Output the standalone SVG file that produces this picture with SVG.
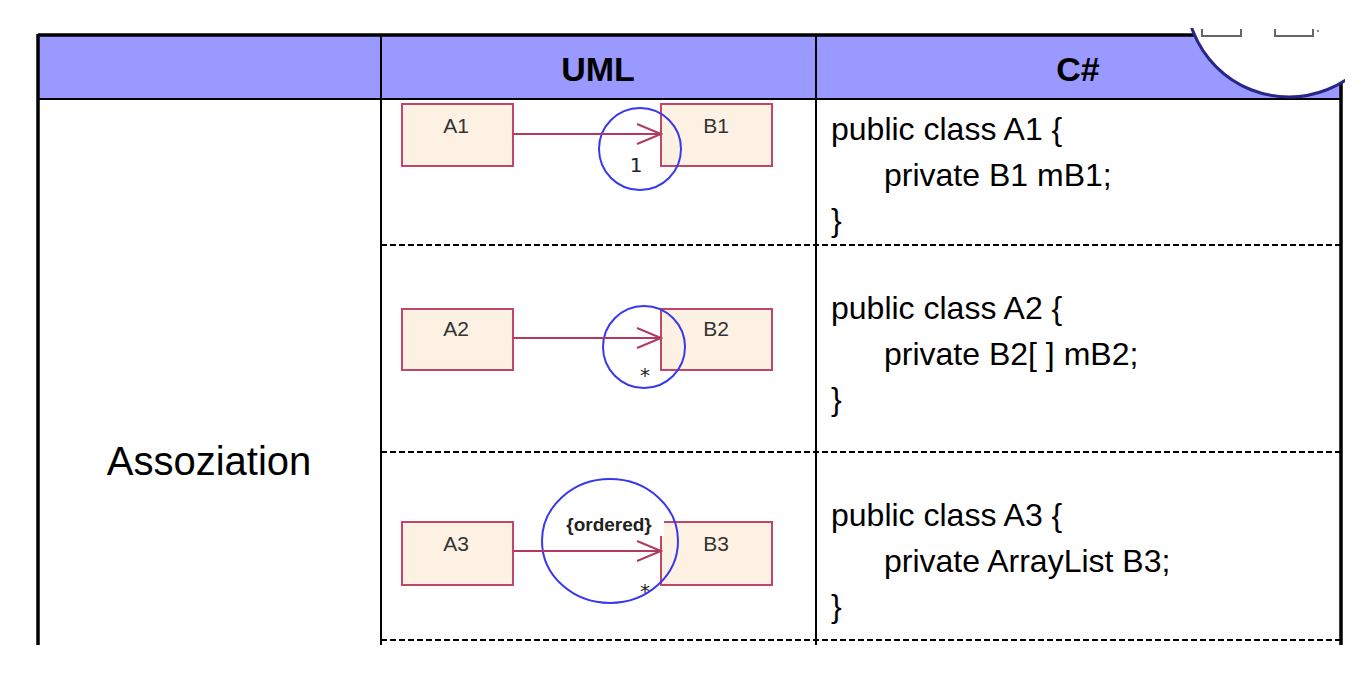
<svg xmlns="http://www.w3.org/2000/svg" width="1361" height="681" viewBox="0 0 1361 681">
<style>
  text { font-family: "Liberation Sans", Arial, sans-serif; }
  .hdr { font-size: 34px; font-weight: bold; fill: #000; text-anchor: middle; }
  .code { font-size: 32px; fill: #000; }
  .cls { fill: #FCF1E3; stroke: #C2466A; stroke-width: 2; }
  .clsl { font-size: 21px; fill: #333; text-anchor: middle; }
  .assoc { stroke: #B23A5E; stroke-width: 2; fill: none; }
  .mark { fill: none; stroke: #3838EE; stroke-width: 2; }
  .mult { font-family: "DejaVu Sans", sans-serif; font-size: 20px; fill: #222; text-anchor: middle; }
  .dash { stroke: #000; stroke-width: 2; stroke-dasharray: 6 3; }
  .solid { stroke: #000; stroke-width: 2; }
  .thick { stroke: #000; stroke-width: 3.5; }
</style>
<defs>
  <marker id="open" markerWidth="28" markerHeight="24" refX="26" refY="12" orient="auto" markerUnits="userSpaceOnUse">
    <path d="M2,2 L26,12 L2,22" fill="none" stroke="#B23A5E" stroke-width="2"/>
  </marker>
  <clipPath id="lensclip"><rect x="0" y="28" width="1345" height="653"/></clipPath>
</defs>
<rect width="1361" height="681" fill="#fff"/>
<g id="table">
  <rect x="38" y="35" width="1303" height="64" fill="#9999FF"/>
  <line class="thick" x1="38" y1="35" x2="1341" y2="35"/>
  <line class="thick" x1="38" y1="34" x2="38" y2="645"/>
  <line class="thick" x1="1341" y1="34" x2="1341" y2="645"/>
  <line class="solid" x1="38" y1="99" x2="1341" y2="99"/>
  <line class="solid" x1="381" y1="35" x2="381" y2="645"/>
  <line class="solid" x1="816" y1="35" x2="816" y2="645"/>
  <line class="dash" x1="381" y1="245" x2="1341" y2="245"/>
  <line class="dash" x1="381" y1="452" x2="1341" y2="452"/>
  <line class="dash" x1="381" y1="640" x2="1341" y2="640"/>
  <text class="hdr" x="598" y="81">UML</text>
  <text class="hdr" x="1078" y="81">C#</text>
  <text x="209" y="475" font-size="40" text-anchor="middle" fill="#000">Assoziation</text>
</g>
<g id="row1">
  <g id="A1"><rect class="cls" x="402" y="104" width="111" height="62"/><text class="clsl" x="456" y="133">A1</text></g>
  <g id="B1"><rect class="cls" x="661" y="104" width="111" height="62"/><text class="clsl" x="716" y="133">B1</text></g>
  <text class="mult" x="636" y="172">1</text>
  <circle class="mark" cx="640" cy="149" r="41"/>
  <g id="code1">
    <text class="code" x="831" y="140">public class A1 {</text>
    <text class="code" x="884" y="186">private B1 mB1;</text>
    <text class="code" x="831" y="231">}</text>
  </g>
</g>
<g id="row2">
  <g id="A2"><rect class="cls" x="402" y="309" width="111" height="61"/><text class="clsl" x="456" y="336">A2</text></g>
  <g id="B2"><rect class="cls" x="661" y="309" width="111" height="61"/><text class="clsl" x="716" y="336">B2</text></g>
  <text class="mult" x="645" y="382" font-size="22">*</text>
  <circle class="mark" cx="644" cy="347" r="41"/>
  <g id="code2">
    <text class="code" x="831" y="319">public class A2 {</text>
    <text class="code" x="884" y="365">private B2[ ] mB2;</text>
    <text class="code" x="831" y="410">}</text>
  </g>
</g>
<g id="row3">
  <g id="A3"><rect class="cls" x="402" y="522" width="111" height="63"/><text class="clsl" x="456" y="551">A3</text></g>
  <g id="B3"><rect class="cls" x="661" y="522" width="111" height="63"/><text class="clsl" x="716" y="551">B3</text></g>
  <rect x="650" y="519" width="14" height="17" fill="#fff"/>
  <text x="609" y="531" font-family="DejaVu Sans, sans-serif" font-size="19" font-weight="bold" fill="#222" text-anchor="middle">{ordered}</text>
  <text class="mult" x="645" y="598" font-size="22">*</text>
  <ellipse class="mark" cx="610" cy="541" rx="68" ry="62"/>
  <g id="code3">
    <text class="code" x="831" y="526">public class A3 {</text>
    <text class="code" x="884" y="572">private ArrayList B3;</text>
    <text class="code" x="831" y="617">}</text>
  </g>
</g>
<g id="connectors">
  <line class="assoc" x1="513" y1="134" x2="661" y2="134" marker-end="url(#open)"/>
  <line class="assoc" x1="513" y1="338" x2="661" y2="338" marker-end="url(#open)"/>
  <line class="assoc" x1="513" y1="551" x2="661" y2="551" marker-end="url(#open)"/>
</g>
<g id="zoom-lens" clip-path="url(#lensclip)">
  <circle cx="1289" cy="-6" r="103" fill="#fff" stroke="#27278A" stroke-width="3"/>
  <path d="M1202,29 V36 H1241 V29 M1275,29 V36 H1313 V29" fill="none" stroke="#666" stroke-width="2"/>
  <circle cx="1318" cy="31" r="1" fill="#666"/>
</g>
</svg>
